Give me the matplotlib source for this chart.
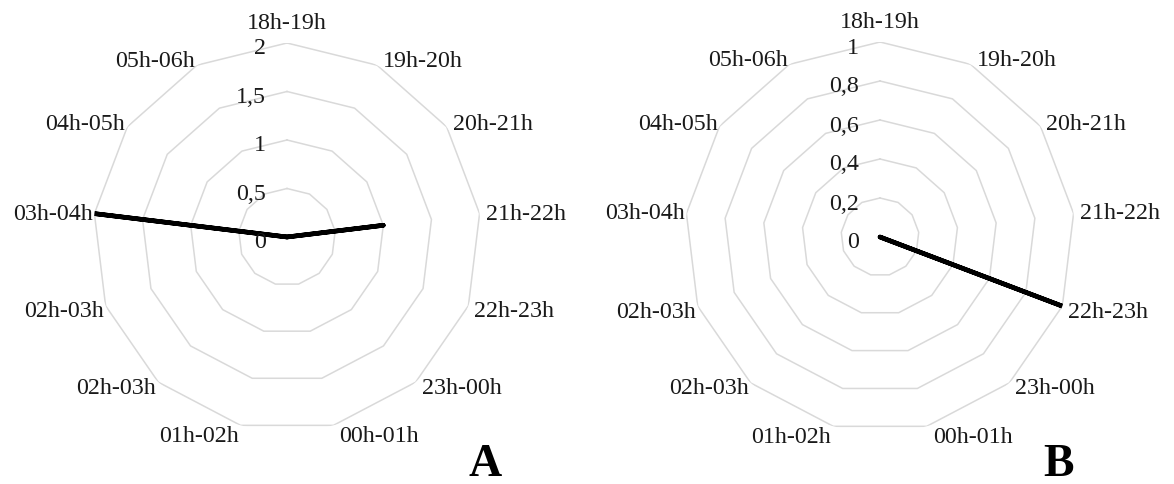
import numpy as np
import matplotlib
matplotlib.use("Agg")
import matplotlib.pyplot as plt
from matplotlib.transforms import offset_copy

categories = ['18h-19h', '19h-20h', '20h-21h', '21h-22h', '22h-23h', '23h-00h',
              '00h-01h', '01h-02h', '02h-03h', '02h-03h', '03h-04h', '04h-05h', '05h-06h']
values_a = [0, 0, 0, 1, 0, 0, 0, 0, 0, 0, 2, 0, 0]
values_b = [0, 0, 0, 0, 1, 0, 0, 0, 0, 0, 0, 0, 0]
ticks_a = [0, 0.5, 1, 1.5, 2]
ticklabels_a = ['0', '0,5', '1', '1,5', '2']
ticks_b = [0, 0.2, 0.4, 0.6, 0.8, 1]
ticklabels_b = ['0', '0,2', '0,4', '0,6', '0,8', '1']
panel_letters = ['A', 'B']

W, H = 1174, 485
fig = plt.figure(figsize=(W / 100, H / 100), dpi=100)
plt.rcParams['font.family'] = ['Liberation Serif', 'DejaVu Serif']

FS = 17.3
TXT = '#1a1a1a'
GRID = '#d9d9d9'


def radar(cx, cy, R, values, ticks, ticklabels, letter, letter_xy):
    ax = fig.add_axes([(cx - R) / W, (H - cy - R) / H, 2 * R / W, 2 * R / H],
                      projection='polar')
    ax.set_theta_zero_location('N')
    ax.set_theta_direction(-1)
    n = len(categories)
    theta = np.arange(n) * 2 * np.pi / n
    tc = np.append(theta, theta[0])
    rmax = ticks[-1]
    ax.set_ylim(0, rmax)
    ax.grid(False)
    ax.spines['polar'].set_visible(False)
    ax.set_xticks([])
    ax.set_yticks([])
    ax.patch.set_alpha(0)
    for t in ticks[1:]:
        ax.plot(tc, [t] * (n + 1), color=GRID, lw=1.1, zorder=1)
    vc = np.append(values, values[0])
    ax.plot(tc, vc, color='black', lw=3.3, solid_capstyle='round',
            solid_joinstyle='round', zorder=3)
    # radial tick labels
    for t, lab in zip(ticks, ticklabels):
        tr = offset_copy(ax.transData, fig=fig, x=-21, y=-5, units='dots')
        ax.text(0, t, lab, transform=tr, ha='right', va='center',
                fontsize=FS, color=TXT, clip_on=False)
    # category labels
    for th, lab in zip(theta, categories):
        s, c = np.sin(th), np.cos(th)
        if c >= 0:
            dy = 5 * c
        elif c > -0.9:
            dy = -5
        else:
            dy = -10
        if abs(s) < 0.05:
            ha, dx, dy = 'center', 0, 20
        elif s > 0:
            ha, dx = 'left', 6
        else:
            ha, dx = 'right', -2
        tr = offset_copy(ax.transData, fig=fig, x=dx, y=dy, units='dots')
        ax.text(th, rmax, lab, transform=tr, ha=ha, va='center',
                fontsize=FS, color=TXT, clip_on=False)
    fig.text(letter_xy[0] / W, 1 - letter_xy[1] / H, letter, fontsize=33,
             fontweight='bold', ha='center', va='center', color='black')
    return ax


radar(287, 238, 194, values_a, ticks_a, ticklabels_a, panel_letters[0], (485, 465))
radar(880, 238, 195, values_b, ticks_b, ticklabels_b, panel_letters[1], (1059, 465))

fig.savefig('out.png', dpi=100, facecolor='white')
